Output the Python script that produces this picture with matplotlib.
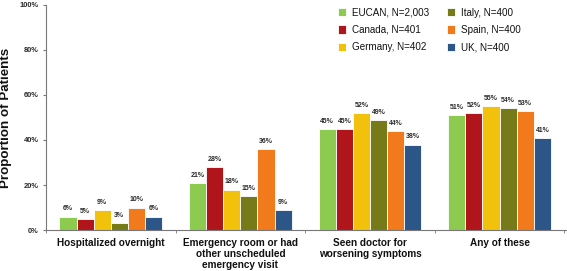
import matplotlib
matplotlib.use("Agg")
import matplotlib.pyplot as plt
import numpy as np

plt.rcParams['font.family'] = ['Liberation Sans', 'DejaVu Sans']

categories = ["Hospitalized overnight",
              "Emergency room or had\nother unscheduled\nemergency visit",
              "Seen doctor for\nworsening symptoms",
              "Any of these"]
series_names = ["EUCAN, N=2,003", "Canada, N=401", "Germany, N=402",
                "Italy, N=400", "Spain, N=400", "UK, N=400"]
eucan = [6, 21, 45, 51]
canada = [5, 28, 45, 52]
germany = [9, 18, 52, 55]
italy = [3, 15, 49, 54]
spain = [10, 36, 44, 53]
uk = [6, 9, 38, 41]
series_values = [eucan, canada, germany, italy, spain, uk]
colors = ["#8DCB50", "#B0151B", "#F2C10C", "#767A18", "#F07A1C", "#2D5688"]
yticks = [0, 20, 40, 60, 80, 100]
ytick_labels = ["0%", "20%", "40%", "60%", "80%", "100%"]

fig = plt.figure(figsize=(5.67, 2.71), dpi=100)
ax = fig.add_axes([0.081, 0.151, 0.919, 0.831])

n = len(series_values)
bw = 0.132
x = np.arange(len(categories))
for i, (vals, c, name) in enumerate(zip(series_values, colors, series_names)):
    pos = x + (i - (n - 1) / 2) * bw
    ax.bar(pos, vals, width=bw, color=c, edgecolor="white",
           linewidth=0.6, label=name)
    for p, v in zip(pos, vals):
        ax.annotate(f"{v}%", (p, v), xytext=(0, 3), textcoords="offset points",
                    ha="center", va="bottom",
                    fontsize=5, fontweight="bold", color="#2a2a2a")

ax.set_xlim(-0.5, 3.52)
ax.set_ylim(0, 100)
ax.set_yticks(yticks)
ax.set_yticklabels(ytick_labels, fontsize=5.4, fontweight="bold", color="#2a2a2a")
ax.set_xticks(x)
ax.set_xticklabels(categories, fontsize=7.2, fontweight="bold", color="#111111",
                   linespacing=1.1)
ax.tick_params(axis="x", length=0, pad=6)
ax.set_xticks(np.arange(-0.5, 4.0, 1.0), minor=True)
ax.tick_params(axis="x", which="minor", length=2, color="#777777")
ax.tick_params(axis="y", length=2, color="#777777", pad=3)
for s in ["top", "right"]:
    ax.spines[s].set_visible(False)
for s in ["left", "bottom"]:
    ax.spines[s].set_color("#777777")
    ax.spines[s].set_linewidth(0.8)

ax.set_ylabel("Proportion of Patients", fontsize=9.6, fontweight="bold",
              color="#111111")
ax.yaxis.set_label_coords(-0.066, 0.5)

leg = ax.legend(ncol=2, loc="upper left", bbox_to_anchor=(0.561, 0.987),
                frameon=False, fontsize=7.1, handlelength=0.8,
                handleheight=0.9, handletextpad=0.6, columnspacing=1.8,
                labelspacing=0.72, borderpad=0, borderaxespad=0)
for t in leg.get_texts():
    t.set_color("#111111")

fig.savefig("out.png", dpi=100)
